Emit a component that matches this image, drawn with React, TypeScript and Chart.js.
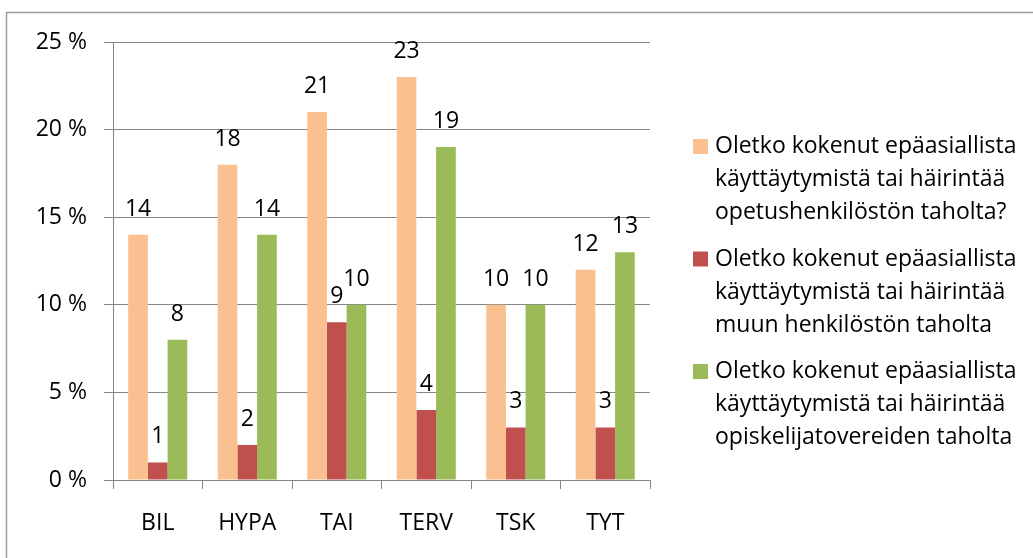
import { useEffect, useRef } from 'react';
import { Chart, registerables } from 'chart.js';

Chart.register(...registerables);

// ---- data ----
const categories = ['BIL', 'HYPA', 'TAI', 'TERV', 'TSK', 'TYT'];
const opetushenkilosto = [14, 18, 21, 23, 10, 12];
const muuHenkilosto = [1, 2, 9, 4, 3, 3];
const opiskelijatoverit = [8, 14, 10, 19, 10, 13];
const yTickValues = [0, 5, 10, 15, 20, 25];
const legendLines1 = ['Oletko kokenut epäasiallista', 'käyttäytymistä tai häirintää', 'opetushenkilöstön taholta?'];
const legendLines2 = ['Oletko kokenut epäasiallista', 'käyttäytymistä tai häirintää', 'muun henkilöstön taholta'];
const legendLines3 = ['Oletko kokenut epäasiallista', 'käyttäytymistä tai häirintää', 'opiskelijatovereiden taholta'];

const FONT = '"Open Sans", "Noto Sans", sans-serif';
const FONT_SIZE = 23;
const GRID = '#868686';
const COLORS = ['#FAC090', '#C0504D', '#9BBB59'];
const LEGENDS = [legendLines1, legendLines2, legendLines3];

const framePlugin = {
  id: 'frame',
  beforeDraw(chart: any) {
    const ctx = chart.ctx;
    ctx.save();
    ctx.fillStyle = '#fff';
    ctx.fillRect(0, 0, chart.width, chart.height);
    ctx.strokeStyle = '#9a9a9a';
    ctx.lineWidth = 1.5;
    ctx.strokeRect(6.5, 12.5, 1200, 1000);
    ctx.restore();
  },
};

const valueLabelPlugin = {
  id: 'valueLabels',
  afterDatasetsDraw(chart: any) {
    const ctx = chart.ctx;
    ctx.save();
    ctx.font = `${FONT_SIZE}px ${FONT}`;
    ctx.fillStyle = '#000';
    ctx.textAlign = 'center';
    ctx.textBaseline = 'alphabetic';
    chart.data.datasets.forEach((ds: any, i: number) => {
      const meta = chart.getDatasetMeta(i);
      meta.data.forEach((el: any, j: number) => {
        ctx.fillText(String(ds.data[j]), el.x, el.y - 19);
      });
    });
    ctx.restore();
  },
};

const legendPlugin = {
  id: 'customLegend',
  afterDraw(chart: any) {
    const ctx = chart.ctx;
    ctx.save();
    ctx.font = `${FONT_SIZE}px ${FONT}`;
    ctx.fillStyle = '#000';
    ctx.textAlign = 'left';
    ctx.textBaseline = 'alphabetic';
    chart.data.datasets.forEach((ds: any, i: number) => {
      const base = 153 + i * 112.5;
      ctx.fillStyle = ds.backgroundColor;
      ctx.fillRect(693, base - 14, 15, 15);
      ctx.fillStyle = '#000';
      LEGENDS[i].forEach((line: string, k: number) => {
        ctx.fillText(line, 715, base + k * 33);
      });
    });
    ctx.restore();
  },
};

export default function App() {
  const ref = useRef<HTMLCanvasElement>(null);
  useEffect(() => {
    const canvas = ref.current!;
    const chart = new Chart(canvas, {
      type: 'bar',
      data: {
        labels: categories,
        datasets: [
          { label: legendLines1.join(' '), data: opetushenkilosto, backgroundColor: COLORS[0] },
          { label: legendLines2.join(' '), data: muuHenkilosto, backgroundColor: COLORS[1] },
          { label: legendLines3.join(' '), data: opiskelijatoverit, backgroundColor: COLORS[2] },
        ],
      },
      options: {
        responsive: false,
        animation: false,
        devicePixelRatio: 1,
        datasets: { bar: { categoryPercentage: 0.66, barPercentage: 1 } },
        layout: { padding: { left: 0, top: 42, right: 383, bottom: 0 } },
        plugins: { legend: { display: false }, tooltip: { enabled: false } },
        scales: {
          x: {
            grid: { drawOnChartArea: false, drawTicks: true, tickLength: 9, color: GRID, lineWidth: 1, offset: true },
            border: { color: GRID, width: 1 },
            ticks: { font: { family: FONT, size: FONT_SIZE }, color: '#000', padding: 21, maxRotation: 0 },
            afterFit: (s: any) => { s.height = 78; },
          },
          y: {
            min: 0,
            max: 25,
            afterBuildTicks: (s: any) => { s.ticks = yTickValues.map((v) => ({ value: v })); },
            ticks: { callback: (v: any) => `${v} %`, font: { family: FONT, size: FONT_SIZE }, color: '#000', padding: 17 },
            grid: { color: GRID, tickLength: 9, lineWidth: 1 },
            border: { color: GRID, width: 1 },
            afterFit: (s: any) => { s.width = 113; },
          },
        },
      },
      plugins: [framePlugin, valueLabelPlugin, legendPlugin],
    } as any);
    return () => chart.destroy();
  }, []);
  return (
    <div style={{ position: 'fixed', left: 0, top: 0, width: 1033, height: 558 }}>
      <canvas ref={ref} width={1033} height={558} />
    </div>
  );
}
